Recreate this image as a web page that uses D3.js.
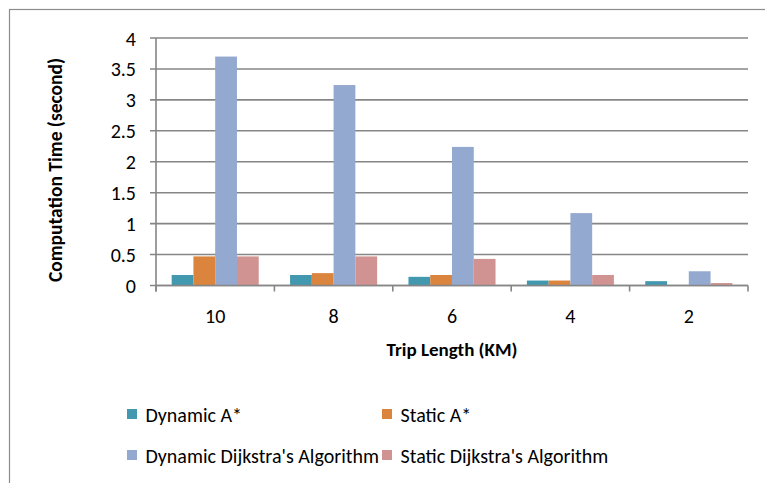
<!DOCTYPE html>
<html><head><meta charset="utf-8">
<script src="https://cdn.jsdelivr.net/npm/d3@7"></script>
<style>
html,body{margin:0;padding:0;background:#fff;}
svg{display:block;}
text{font-family:Carlito,Calibri,Lato,"Open Sans",sans-serif;fill:#000;}
</style></head>
<body>
<svg id="chart" width="765" height="483"></svg>
<script>
const categories = ["10", "8", "6", "4", "2"];
const seriesNames = ["Dynamic A*", "Static A*", "Dynamic Dijkstra's Algorithm", "Static Dijkstra's Algorithm"];
const dynamicAStar = [0.17, 0.17, 0.14, 0.08, 0.07];
const staticAStar = [0.47, 0.2, 0.17, 0.08, 0];
const dynamicDijkstra = [3.7, 3.24, 2.24, 1.17, 0.23];
const staticDijkstra = [0.47, 0.47, 0.43, 0.17, 0.04];
const yTicks = [0, 0.5, 1, 1.5, 2, 2.5, 3, 3.5, 4];
const colors = ["#4198AF", "#DB843D", "#93A9CF", "#D19392"];

const seriesValues = [dynamicAStar, staticAStar, dynamicDijkstra, staticDijkstra];

const svg = d3.select("#chart");
const plotLeft = 156, plotRight = 748, plotTop = 38, plotBottom = 285.5;
const fontStack = "Carlito,Calibri,Lato,sans-serif";

// outer border
svg.append("rect").attr("x", 9.5).attr("y", 9.5).attr("width", 800).attr("height", 600)
  .attr("fill", "none").attr("stroke", "#8c8c8c").attr("stroke-width", 1.2);

const x = d3.scaleBand().domain(categories).range([plotLeft, plotRight]).paddingInner(0).paddingOuter(0);
const x1 = d3.scaleBand().domain(d3.range(seriesNames.length)).range([0, x.bandwidth()]).paddingInner(0).paddingOuter(0.72);
const y = d3.scaleLinear().domain([0, 4]).range([plotBottom, plotTop]);

const gridColor = "#868686";

// gridlines
svg.append("g").selectAll("line").data(yTicks).join("line")
  .attr("x1", plotLeft - 6).attr("x2", plotRight)
  .attr("y1", d => y(d)).attr("y2", d => y(d))
  .attr("stroke", gridColor).attr("stroke-width", 1.6);

// bars
const groups = svg.append("g").selectAll("g").data(categories).join("g")
  .attr("transform", d => `translate(${x(d)},0)`);
groups.selectAll("rect").data((c, ci) => seriesValues.map((vals, si) => ({si, v: vals[ci]})))
  .join("rect")
  .attr("x", d => x1(d.si))
  .attr("width", x1.bandwidth())
  .attr("y", d => y(d.v))
  .attr("height", d => y(0) - y(d.v))
  .attr("fill", d => colors[d.si]);

// y axis
const yAxis = d3.axisLeft(y).tickValues(yTicks).tickSize(0).tickPadding(20).tickFormat(d => String(d));
const yg = svg.append("g").attr("transform", `translate(${plotLeft},0)`).call(yAxis);
yg.select(".domain").remove();
yg.selectAll("text").attr("font-size", 20).attr("dy", "0.35em").style("font-family", fontStack);
svg.append("line").attr("x1", plotLeft).attr("x2", plotLeft).attr("y1", plotTop).attr("y2", plotBottom + 6)
  .attr("stroke", gridColor).attr("stroke-width", 1.6);

// x axis
svg.append("line").attr("x1", plotLeft).attr("x2", plotRight).attr("y1", plotBottom).attr("y2", plotBottom)
  .attr("stroke", gridColor).attr("stroke-width", 1.6);
const xb = categories.map(c => x(c)).concat([plotRight]);
svg.append("g").selectAll("line").data(xb).join("line")
  .attr("x1", d => d).attr("x2", d => d).attr("y1", plotBottom).attr("y2", plotBottom + 6)
  .attr("stroke", gridColor).attr("stroke-width", 1.6);
const xAxis = d3.axisBottom(x).tickSize(0).tickPadding(0);
const xg = svg.append("g").attr("transform", `translate(0,${plotBottom})`).call(xAxis);
xg.select(".domain").remove();
xg.selectAll("text").attr("font-size", 20).attr("y", 37.5).attr("dy", 0).style("font-family", fontStack);

// axis titles
svg.append("text").attr("x", (plotLeft + plotRight) / 2).attr("y", 356).attr("text-anchor", "middle")
  .attr("font-size", 19).attr("font-weight", "bold").text("Trip Length (KM)");
svg.append("text").attr("transform", "translate(62,170) rotate(-90)").attr("text-anchor", "middle")
  .attr("font-size", 19.5).attr("font-weight", "bold").text("Computation Time (second)");

// legend
const legendPos = [[127, 409], [382, 409], [127, 450], [382, 450]];
const lg = svg.append("g").selectAll("g").data(seriesNames).join("g")
  .attr("transform", (d, i) => `translate(${legendPos[i][0]},${legendPos[i][1]})`);
lg.append("rect").attr("width", 10).attr("height", 10).attr("fill", (d, i) => colors[i]);
lg.append("text").attr("x", 18.5).attr("y", 13).attr("font-size", 20).text(d => d);
</script>
</body></html>
